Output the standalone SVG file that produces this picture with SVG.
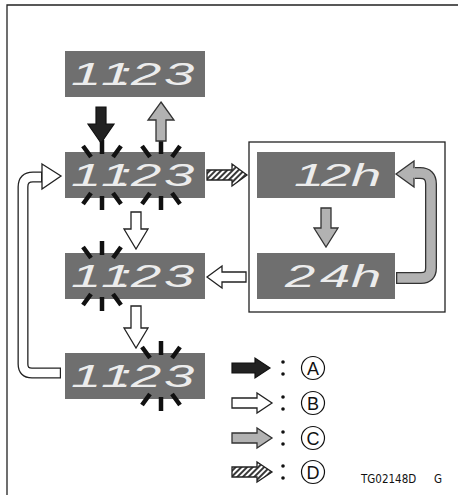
<svg xmlns="http://www.w3.org/2000/svg" width="458" height="495" viewBox="0 0 458 495">
<defs>
<style>
.box{fill:#6f6f6f}
.dig{font-family:"Liberation Sans",Arial,sans-serif;font-style:italic;font-size:32px;fill:#ececec}
.ray{stroke:#111;stroke-width:4.5;fill:none}
.blk{fill:#222;stroke:#111;stroke-width:1.2}
.wht{fill:#fff;stroke:#222;stroke-width:1.3}
.gry{fill:#b2b2b2;stroke:#333;stroke-width:1.3}
.hat{fill:url(#hatch);stroke:#222;stroke-width:1.3}
.lbl{font-family:"Liberation Sans",Arial,sans-serif;font-size:18px;fill:#111;text-anchor:middle}
</style>
<pattern id="hatch" width="4" height="4" patternUnits="userSpaceOnUse" patternTransform="rotate(45)">
<rect width="4" height="4" fill="#fff"/>
<line x1="1" y1="0" x2="1" y2="4" stroke="#222" stroke-width="1.8"/>
</pattern>
</defs>
<rect width="458" height="495" fill="#fff"/>
<path d="M7,495 V5 H458" fill="none" stroke="#222" stroke-width="1.3"/>

<g id="display1">
<rect class="box" x="65" y="51" width="140" height="46"/>
<text class="dig" transform="translate(0,85) scale(1.7,1)" x="41.8 59.4 68.5 77.1 96.5">11:23</text>
</g>

<g id="display2">
<rect class="box" x="65" y="152" width="140" height="46"/>
<text class="dig" transform="translate(0,186) scale(1.7,1)" x="41.8 59.4 68.5 77.1 96.5">11:23</text>
<g class="ray">
<path d="M102,140V154M83,146L91,157M121,146L113,157M102,196V210M91,193L83,204M113,193L121,204"/>
<path d="M161,140V154M142,146L150,157M180,146L172,157M161,196V210M150,193L142,204M172,193L180,204"/>
</g>
</g>

<g id="display3">
<rect class="box" x="65" y="253" width="140" height="46"/>
<text class="dig" transform="translate(0,287) scale(1.7,1)" x="41.8 59.4 68.5 77.1 96.5">11:23</text>
<g class="ray">
<path d="M102,241V255M83,247L91,258M121,247L113,258M102,297V311M91,294L83,305M113,294L121,305"/>
</g>
</g>

<g id="display4">
<rect class="box" x="65" y="353" width="140" height="46"/>
<text class="dig" transform="translate(0,387) scale(1.7,1)" x="41.8 59.4 68.5 77.1 96.5">11:23</text>
<g class="ray">
<path d="M161,341V355M142,347L150,358M180,347L172,358M161,397V411M150,394L142,405M172,394L180,405"/>
</g>
</g>

<g id="format-group">
<rect x="249" y="142" width="196" height="170" fill="none" stroke="#222" stroke-width="1.3"/>
<g id="display12h">
<rect class="box" x="257" y="152" width="138" height="46"/>
<text class="dig" transform="translate(0,186) scale(1.7,1)" x="172.9 188.8 206.5">12h</text>
</g>
<g id="display24h">
<rect class="box" x="257" y="253" width="138" height="46"/>
<text class="dig" transform="translate(0,287) scale(1.7,1)" x="167.6 188.2 206.5">24h</text>
</g>
</g>

<g id="connectors">
<polygon class="blk" points="96,107 106,107 106,124 114,124 101,143 88,124 96,124"/>
<polygon class="gry" points="161,102 174,120 166,120 166,141 156,141 156,120 148,120"/>
<polygon class="wht" points="131,212 141,212 141,229 148,229 136,249 124,229 131,229"/>
<polygon class="wht" points="131,306 141,306 141,328 148,328 136,348 124,328 131,328"/>
<polygon class="hat" points="207,170 232,170 232,164 247,175 232,186 232,180 207,180"/>
<polygon class="wht" points="207,277 222,266 222,272 246,272 246,282 222,282 222,288"/>
<polygon class="gry" points="321,208 331,208 331,228 338,228 326,247 314,228 321,228"/>
<path d="M396,278 H421 Q431,278 431,268 V184 Q431,173 420,173 H415" fill="none" stroke="#333" stroke-width="12"/>
<polygon class="gry" points="414,161 396,174 414,187"/>
<path d="M397.3,278 H421 Q431,278 431,268 V184 Q431,173 420,173 H413" fill="none" stroke="#b2b2b2" stroke-width="9.4"/>
<path d="M61,373 H32 Q23,373 23,364 V187 Q23,177 33,177 H43" fill="none" stroke="#222" stroke-width="11"/>
<polygon class="wht" points="42,164 61,176 42,189"/>
<path d="M59.8,373 H32 Q23,373 23,364 V187 Q23,177 33,177 H41" fill="none" stroke="#fff" stroke-width="8.4"/>
</g>

<g id="legend">
<polygon class="blk" points="232,363 255,363 255,358 270,368 255,378 255,373 232,373"/>
<polygon class="wht" points="232,398 257,398 257,393 272,403 257,413 257,408 232,408"/>
<polygon class="gry" points="232,433 257,433 257,428 272,438 257,448 257,443 232,443"/>
<polygon class="hat" points="232,467 257,467 257,462 272,472 257,482 257,477 232,477"/>
<g fill="#111">
<circle cx="283" cy="362" r="1.8"/><circle cx="283" cy="374" r="1.8"/>
<circle cx="283" cy="397" r="1.8"/><circle cx="283" cy="409" r="1.8"/>
<circle cx="283" cy="432" r="1.8"/><circle cx="283" cy="444" r="1.8"/>
<circle cx="283" cy="466" r="1.8"/><circle cx="283" cy="478" r="1.8"/>
</g>
<g fill="none" stroke="#111" stroke-width="1.2">
<circle cx="313" cy="368" r="11.5"/>
<circle cx="313" cy="403" r="11.5"/>
<circle cx="313" cy="438" r="11.5"/>
<circle cx="313" cy="472" r="11.5"/>
</g>
<text class="lbl" x="313" y="374.5">A</text>
<text class="lbl" x="313" y="409.5">B</text>
<text class="lbl" x="313" y="444.5">C</text>
<text class="lbl" x="313" y="478.5">D</text>
</g>

<text y="483" font-family="'Liberation Sans Narrow','DejaVu Sans Condensed',sans-serif" font-size="11.5" fill="#111"><tspan x="361">TG02148D</tspan><tspan x="434">G</tspan></text>
</svg>
